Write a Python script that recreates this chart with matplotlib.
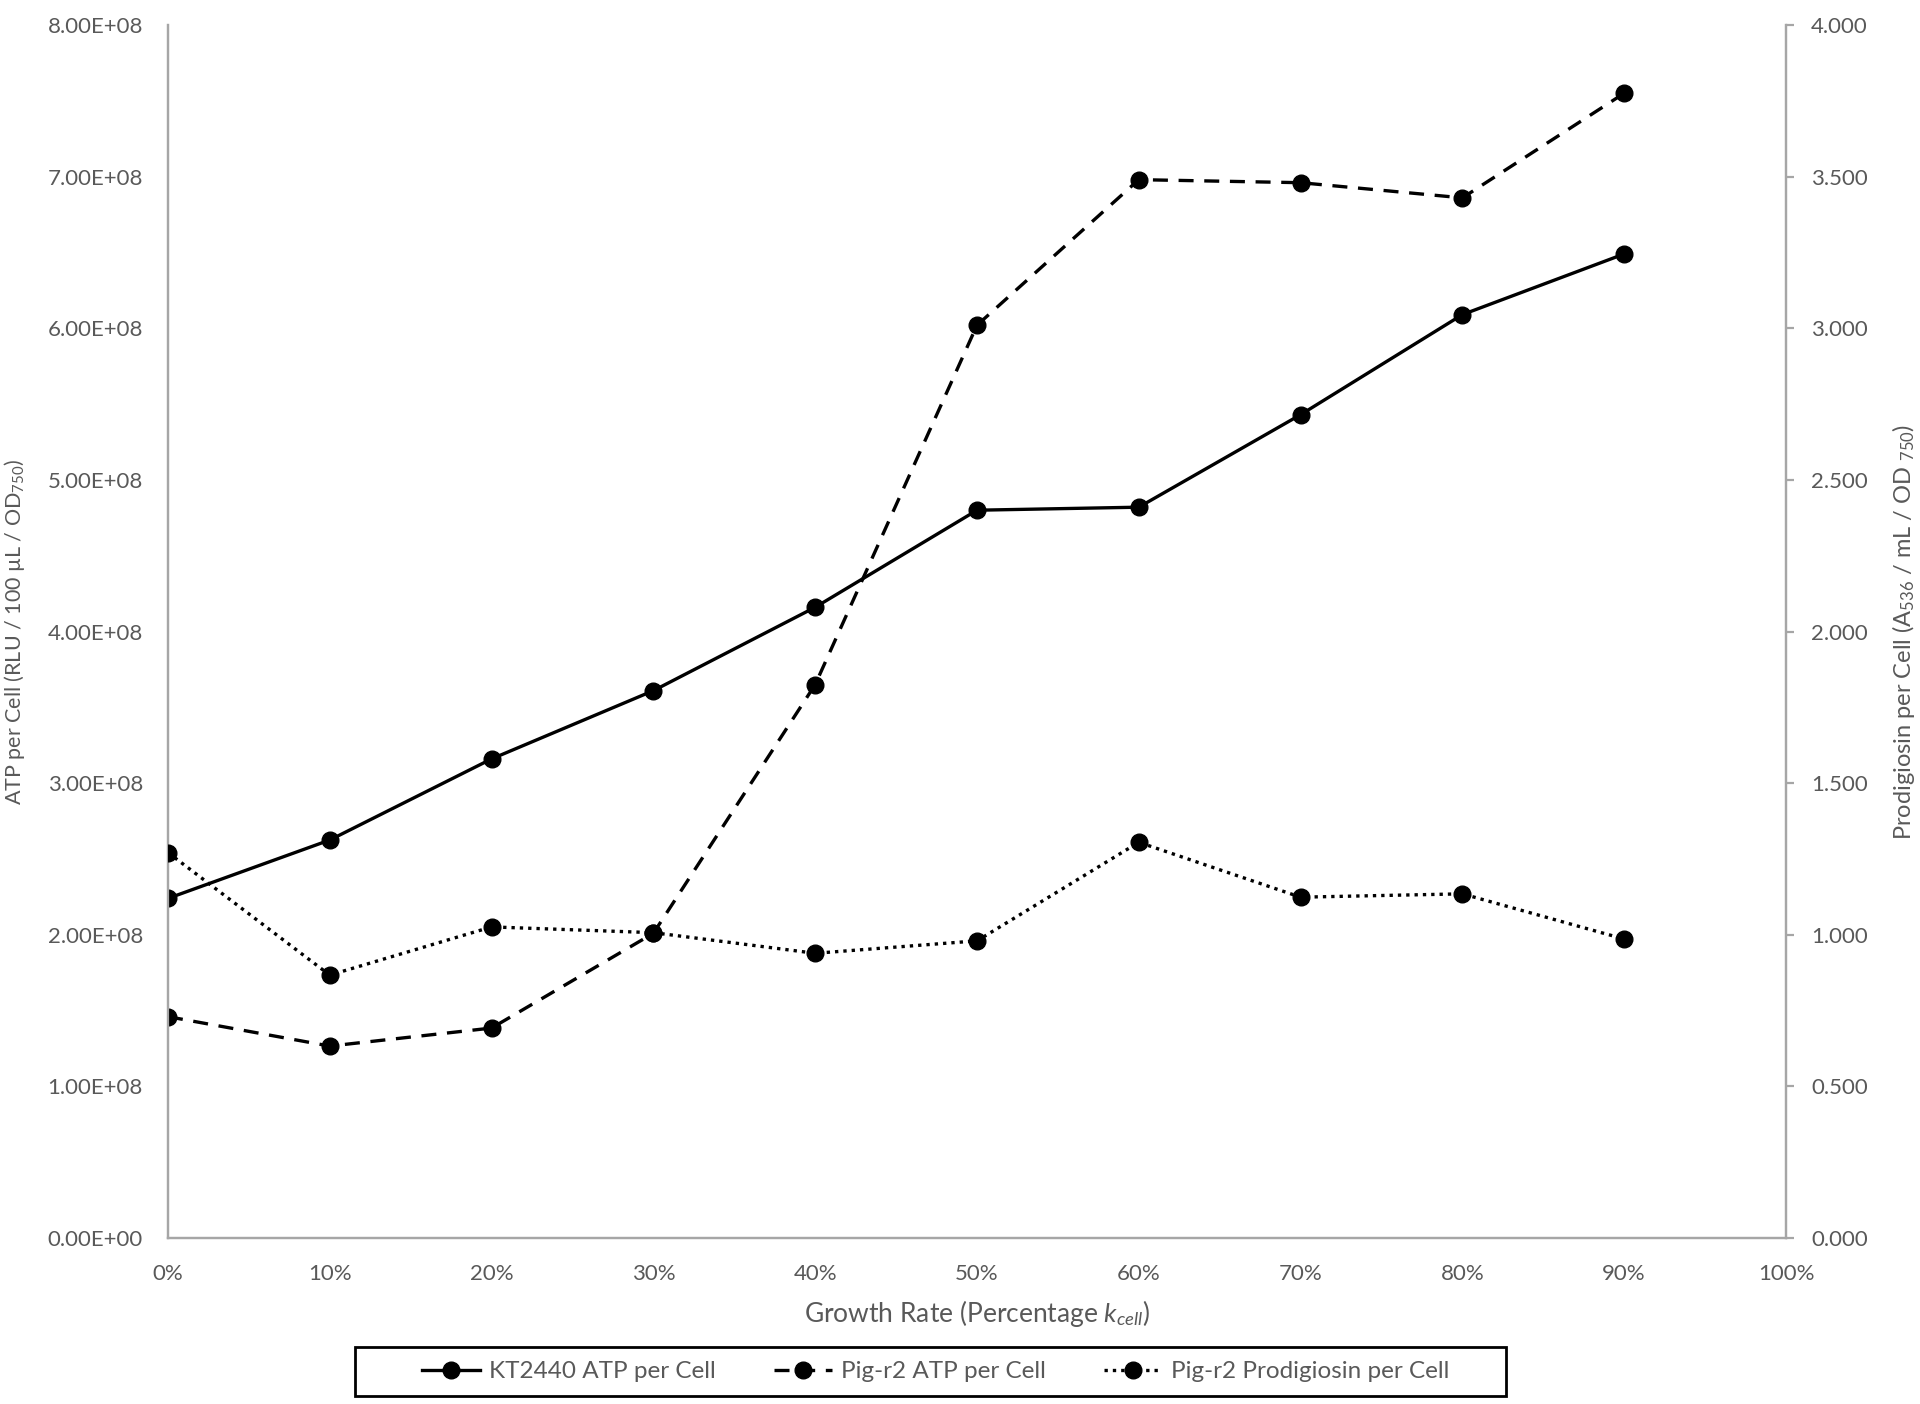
import matplotlib
matplotlib.use("Agg")
import matplotlib.pyplot as plt
from matplotlib.ticker import FuncFormatter, MultipleLocator
from matplotlib.patches import Rectangle

# ---- data ----
growth_pct = [0, 10, 20, 30, 40, 50, 60, 70, 80, 90]
kt2440_atp = [2.24e8, 2.625e8, 3.16e8, 3.61e8, 4.16e8, 4.80e8, 4.82e8, 5.43e8, 6.09e8, 6.49e8]
pigr2_atp = [1.46e8, 1.266e8, 1.385e8, 2.01e8, 3.65e8, 6.02e8, 6.98e8, 6.96e8, 6.86e8, 7.55e8]
pigr2_prodigiosin = [1.271, 0.867, 1.026, 1.007, 0.939, 0.980, 1.305, 1.124, 1.135, 0.986]

series_names = ["KT2440 ATP per Cell", "Pig-r2 ATP per Cell", "Pig-r2 Prodigiosin per Cell"]

plt.rcParams['font.family'] = ['Lato', 'DejaVu Sans']
plt.rcParams['mathtext.fontset'] = 'custom'
plt.rcParams['mathtext.rm'] = 'Lato'
plt.rcParams['mathtext.it'] = 'Lato:italic'
plt.rcParams['mathtext.bf'] = 'Lato:bold'

TXT = '#595959'
SPINE = '#a6a6a6'

fig = plt.figure(figsize=(19.2, 14.04), dpi=100)
ax = fig.add_axes([0.0875, 0.1182, 0.9302 - 0.0875, 0.9822 - 0.1182])
ax2 = ax.twinx()

lw = 2.4
ms = 12
l1, = ax.plot(growth_pct, kt2440_atp, color='black', lw=lw, marker='o', ms=ms,
              label=series_names[0], zorder=3)
l2, = ax.plot(growth_pct, pigr2_atp, color='black', lw=lw, marker='o', ms=ms,
              label=series_names[1], zorder=3)
l2.set_dashes((4.5, 3.2))
l3, = ax2.plot(growth_pct, pigr2_prodigiosin, color='black', lw=lw, marker='o', ms=ms,
               label=series_names[2], zorder=3)
l3.set_dashes((1.0, 1.5))

ax.set_xlim(0, 100)
ax.set_ylim(0, 8e8)
ax2.set_ylim(0, 4)

ax.xaxis.set_major_locator(MultipleLocator(10))
ax.xaxis.set_major_formatter(FuncFormatter(lambda v, p: f"{int(round(v))}%"))
ax.yaxis.set_major_locator(MultipleLocator(1e8))
ax.yaxis.set_major_formatter(FuncFormatter(lambda v, p: f"{v:.2E}"))
ax2.yaxis.set_major_locator(MultipleLocator(0.5))
ax2.yaxis.set_major_formatter(FuncFormatter(lambda v, p: f"{v:.3f}"))

for a in (ax, ax2):
    a.spines['top'].set_visible(False)
    for s in ('left', 'right', 'bottom'):
        a.spines[s].set_color(SPINE)
        a.spines[s].set_linewidth(1.6)

ax.tick_params(axis='y', length=0, pad=18, labelsize=16, labelcolor=TXT)
ax.tick_params(axis='x', length=0, pad=19, labelsize=16, labelcolor=TXT)
ax2.tick_params(axis='y', length=6, width=1.6, color=SPINE, pad=12, labelsize=16, labelcolor=TXT)

ax.set_ylabel(r'ATP per Cell (RLU / 100 µL / OD$_{750}$)', fontsize=15.5, color=TXT, labelpad=15)
ax2.set_ylabel(r'Prodigiosin per Cell (A$_{536}$ / mL / OD $_{750}$)', fontsize=17, color=TXT, labelpad=16)
ax.set_xlabel(r'Growth Rate (Percentage $\mathit{k}_{\mathit{cell}}$)', fontsize=19, color=TXT, labelpad=10)

handles = [l1, l2, l3]
leg = fig.legend(handles, series_names, loc='center', bbox_to_anchor=(0.4872, 0.0231),
                 ncol=3, fontsize=17.5, frameon=False,
                 handlelength=2.4, columnspacing=2.4, handletextpad=0.35)
for t in leg.get_texts():
    t.set_color(TXT)

# legend frame box
fig.patches.append(Rectangle((355 / 1920, 1 - 1396 / 1404), (1506 - 355) / 1920, (1396 - 1347) / 1404,
                             transform=fig.transFigure, fill=False, edgecolor='black', linewidth=2.0))

fig.savefig('out.png', dpi=100, facecolor='white')
